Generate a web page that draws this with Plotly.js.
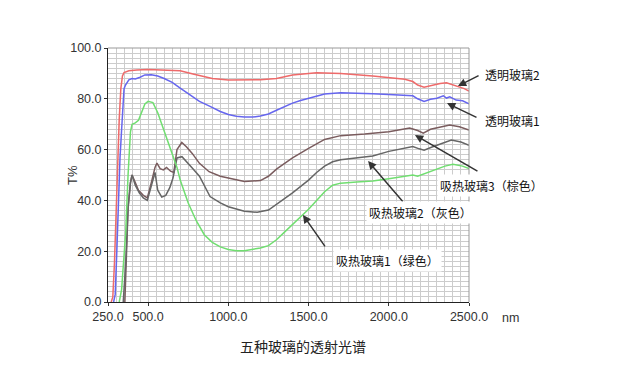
<!DOCTYPE html>
<html>
<head>
<meta charset="utf-8">
<script src="https://cdn.plot.ly/plotly-3.0.1.min.js"></script>
<style>html,body{margin:0;padding:0;background:#fff;}#chart{width:639px;height:366px;}</style>
</head>
<body>
<div id="chart"></div>
<script>
// ---- data (wavelength nm, transmittance %) ----
const seriesNames = ["透明玻璃2", "透明玻璃1", "吸热玻璃3（棕色）", "吸热玻璃2（灰色）", "吸热玻璃1（绿色）"];

const clear2X = [270, 280, 290, 300, 310, 320, 330, 340, 350, 380, 430, 500, 580, 650, 700, 780, 850, 900, 1000, 1100, 1200, 1300, 1400, 1550, 1700, 1900, 2100, 2150, 2180, 2220, 2270, 2320, 2360, 2400, 2440, 2470, 2500];
const clear2Y = [0, 2, 15, 35, 55, 72, 84, 89, 90.3, 91, 91.3, 91.5, 91.3, 91.2, 91, 89.8, 88.7, 88, 87.4, 87.4, 87.5, 88, 89.4, 90.3, 90, 89, 87.7, 86.8, 85.4, 84.6, 85.4, 86, 86.3, 85.4, 84.8, 84, 83];

const clear1X = [285, 295, 305, 315, 325, 335, 343, 350, 360, 380, 400, 420, 450, 480, 520, 560, 600, 650, 700, 760, 820, 886, 950, 1000, 1050, 1100, 1150, 1200, 1250, 1300, 1350, 1400, 1450, 1500, 1600, 1700, 1800, 1900, 2000, 2100, 2150, 2180, 2220, 2260, 2300, 2340, 2360, 2380, 2420, 2460, 2500];
const clear1Y = [0, 3, 20, 40, 57, 68, 76, 84, 85.5, 87.5, 88, 87.8, 88.5, 89.4, 89.5, 89, 88, 86.5, 84.2, 81.5, 79, 77, 75, 73.8, 73.1, 72.8, 72.8, 73.2, 74, 75.5, 77, 78.3, 79.3, 80.2, 81.9, 82.4, 82.3, 82, 81.7, 81.5, 81.2, 80, 79, 79.8, 80.2, 81.2, 80.3, 80.8, 79.5, 79.2, 78];

const brownX = [355, 365, 375, 390, 400, 420, 440, 470, 495, 520, 543, 555, 575, 595, 615, 640, 660, 680, 710, 740, 775, 820, 880, 950, 1000, 1100, 1200, 1250, 1300, 1400, 1500, 1600, 1700, 1850, 2000, 2130, 2180, 2215, 2260, 2320, 2380, 2440, 2500];
const brownY = [0, 15, 37, 47, 50, 47, 44, 42, 41, 47, 53, 54.7, 52.5, 52, 53, 51.5, 51, 60, 62.8, 61, 58.5, 54.6, 51.3, 49.5, 48.7, 47.4, 47.8, 49.5, 52.3, 56.7, 60.5, 64, 65.5, 66.1, 67, 68.5, 67.5, 66.5, 68, 69, 69.7, 69, 67.7];

const grayX = [345, 360, 375, 390, 400, 420, 445, 470, 495, 520, 543, 560, 585, 610, 635, 655, 680, 711, 740, 775, 820, 886, 950, 1000, 1100, 1180, 1250, 1300, 1400, 1500, 1550, 1600, 1650, 1700, 1800, 1900, 2000, 2100, 2150, 2190, 2220, 2270, 2350, 2390, 2450, 2500];
const grayY = [0, 15, 37, 47, 50, 46, 43, 41, 40, 46, 51, 44, 41.3, 42, 45, 48.8, 56.7, 57.2, 55, 52.8, 49.5, 41.5, 39, 37.5, 35.7, 35.3, 36.2, 38.5, 43, 48, 51, 53.5, 55.2, 56, 56.7, 57.5, 59.3, 60.7, 61.2, 60.3, 59.8, 61, 63, 63.8, 63, 61.7];

const greenX = [320, 335, 345, 360, 375, 390, 400, 420, 440, 460, 480, 500, 530, 560, 590, 630, 680, 700, 750, 800, 850, 900, 950, 1000, 1050, 1100, 1150, 1200, 1250, 1300, 1350, 1400, 1450, 1500, 1550, 1600, 1650, 1700, 1800, 1900, 2000, 2100, 2150, 2180, 2220, 2280, 2350, 2400, 2430, 2460, 2500];
const greenY = [0, 5, 14, 27, 50, 67, 70, 70.5, 71.5, 75, 78, 79, 78.5, 74.5, 69, 62, 53, 48, 39, 32, 26.5, 23.5, 21.7, 20.7, 20.2, 20.2, 20.7, 21.3, 22.2, 24.5, 27.5, 30.5, 33.6, 36.5, 40, 43.4, 46, 46.8, 47.2, 47.6, 48.5, 49.5, 50, 49.5, 50.5, 52, 53.5, 54.2, 53.8, 53.5, 52.5];

const xTickVals = [250, 500, 1000, 1500, 2000, 2500];
const yTickVals = [0, 20, 40, 60, 80, 100];

// ---- drawing ----
const lineW = 1.5;
const traces = [
  {x: clear2X, y: clear2Y, name: seriesNames[0], color: "#ee6a6a"},
  {x: clear1X, y: clear1Y, name: seriesNames[1], color: "#6666ee"},
  {x: brownX, y: brownY, name: seriesNames[2], color: "#7a5c5e"},
  {x: grayX, y: grayY, name: seriesNames[3], color: "#666666"},
  {x: greenX, y: greenY, name: seriesNames[4], color: "#70de70"}
].map(s => ({
  type: "scatter", mode: "lines", x: s.x, y: s.y, name: s.name,
  line: {color: s.color, width: lineW, shape: "linear"},
  hoverinfo: "skip"
}));

const tickFont = {family: "Liberation Sans, Arial, sans-serif", size: 12.5, color: "#333"};
const cjk = "Noto Sans CJK SC, sans-serif";

function arrow(hx, hy, tx, ty) {
  return {xref: "x", yref: "y", axref: "x", ayref: "y", x: hx, y: hy, ax: tx, ay: ty,
    text: "", showarrow: true, arrowhead: 2, arrowsize: 1.1, arrowwidth: 1.5, arrowcolor: "#333"};
}
function label(txt, x, y, ref) {
  return {xref: ref ? "paper" : "x", yref: ref ? "paper" : "y", x: x, y: y, text: txt, showarrow: false,
    xanchor: "left", yanchor: "middle",
    bgcolor: "#ffffff", borderpad: 2, font: {family: cjk, size: 12, color: "#111"}};
}

const layout = {
  width: 639, height: 366,
  margin: {l: 108, r: 170, t: 48, b: 64},
  paper_bgcolor: "#ffffff", plot_bgcolor: "#ffffff",
  showlegend: false,
  xaxis: {
    range: [250, 2500], tickmode: "array", tickvals: xTickVals,
    ticktext: xTickVals.map(v => v.toFixed(1)),
    ticks: "outside", ticklen: 3, tickcolor: "#333",
    showline: true, linecolor: "#222", linewidth: 1,
    showgrid: true, gridcolor: "#cccccc", gridwidth: 1,
    minor: {tickmode: "linear", tick0: 250, dtick: 50, showgrid: true, gridcolor: "#cccccc", gridwidth: 1, ticks: ""},
    zeroline: false, tickfont: tickFont, fixedrange: true
  },
  yaxis: {
    range: [0, 100], tickmode: "array", tickvals: yTickVals,
    ticktext: yTickVals.map(v => v.toFixed(1)),
    ticks: "outside", ticklen: 3, tickcolor: "#333",
    showline: true, linecolor: "#222", linewidth: 1,
    showgrid: true, gridcolor: "#cccccc", gridwidth: 1,
    minor: {tickmode: "linear", tick0: 0, dtick: 2, showgrid: true, gridcolor: "#cccccc", gridwidth: 1, ticks: ""},
    zeroline: false, tickfont: tickFont, fixedrange: true
  },
  shapes: [
    {type: "line", xref: "paper", yref: "paper", x0: 0, x1: 1, y0: 1, y1: 1, line: {color: "#999", width: 1}},
    {type: "line", xref: "paper", yref: "paper", x0: 1, x1: 1, y0: 0, y1: 1, line: {color: "#999", width: 1}}
  ],
  annotations: [
    arrow(2431, 85, 2569, 89.4), label(seriesNames[0], 1.036, 0.894, true),
    arrow(2363, 78.3, 2556, 72.4), label(seriesNames[1], 1.036, 0.713, true),
    arrow(2163, 65.7, 2562, 51.2), label(seriesNames[2], 2301, 45.7),
    arrow(1871, 55.5, 2095, 39), label(seriesNames[3], 1858, 35.4),
    arrow(1465, 34.3, 1609, 21.3), label(seriesNames[4], 1652, 16.5),
    {xref: "paper", yref: "paper", x: 1.114, y: -0.063, text: "nm", showarrow: false,
      xanchor: "center", yanchor: "middle", font: {family: "Liberation Sans, Arial, sans-serif", size: 12.5, color: "#333"}},
    {xref: "paper", yref: "paper", x: -0.1, y: 0.5, text: "T%", showarrow: false, textangle: -90,
      xanchor: "center", yanchor: "middle", font: {family: "Liberation Sans, Arial, sans-serif", size: 13, color: "#333"}},
    {xref: "paper", yref: "paper", x: 0.54, y: -0.175, text: "五种玻璃的透射光谱", showarrow: false,
      xanchor: "center", yanchor: "middle", font: {family: cjk, size: 14, color: "#222"}}
  ]
};

Plotly.newPlot("chart", traces, layout, {staticPlot: true, displayModeBar: false});
</script>
</body>
</html>
